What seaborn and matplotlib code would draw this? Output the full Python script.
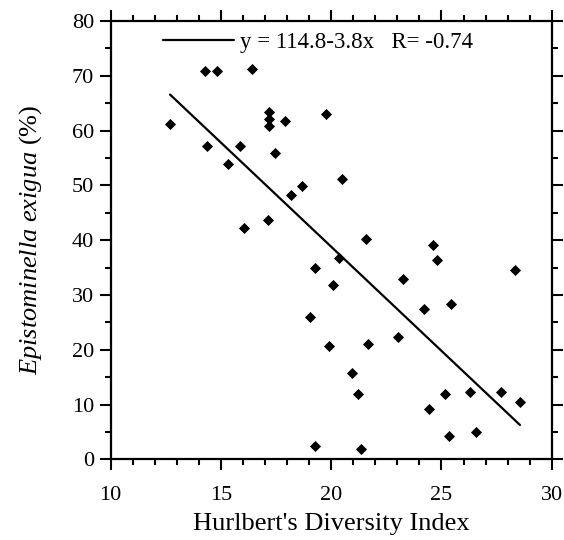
import numpy as np
import pandas as pd
import matplotlib
matplotlib.use("Agg")
import matplotlib.pyplot as plt
from matplotlib.ticker import MultipleLocator
import seaborn as sns

# Data
diversity = [12.69, 14.29, 14.81, 16.39, 17.19, 17.19, 17.19, 17.90, 14.35, 15.86,
             15.33, 17.45, 18.16, 18.68, 16.05, 17.12, 19.75, 20.50, 21.58, 19.27,
             20.35, 24.63, 24.81, 28.34, 20.07, 23.24, 25.43, 24.19, 19.04, 19.90,
             21.65, 23.04, 20.93, 21.20, 25.15, 26.29, 27.70, 28.56, 24.45, 25.36,
             26.57, 19.27, 21.35]
exigua = [61.2, 70.9, 70.9, 71.2, 63.4, 62.2, 60.8, 61.7, 57.1, 57.1,
          53.9, 56.0, 48.3, 49.8, 42.3, 43.7, 63.0, 51.1, 40.3, 35.0,
          36.8, 39.2, 36.4, 34.6, 31.8, 32.9, 28.4, 27.4, 25.9, 20.7,
          21.0, 22.4, 15.8, 12.0, 12.0, 12.3, 12.3, 10.5, 9.2, 4.2,
          5.0, 2.5, 1.8]
fit_intercept = [114.8]
fit_slope = [-3.8]
fit_r = [-0.74]

df = pd.DataFrame({"x": diversity, "y": exigua})
xfit = np.array([min(diversity), max(diversity)])
fit_df = pd.DataFrame({"x": xfit, "y": fit_intercept[0] + fit_slope[0] * xfit})

sns.set_theme(style="ticks")
plt.rcParams["font.family"] = ["Liberation Serif", "DejaVu Serif"]
plt.rcParams["mathtext.fontset"] = "custom"
plt.rcParams["mathtext.rm"] = "Liberation Serif"
plt.rcParams["mathtext.it"] = "Liberation Serif:italic"

fig = plt.figure(figsize=(5.64, 5.40), dpi=100)
ax = fig.add_axes([0.1963, 0.1494, 0.9782 - 0.1963, 0.9611 - 0.1494])

label = f"y = {fit_intercept[0]}{fit_slope[0]}x   R= {fit_r[0]}"
sns.lineplot(data=fit_df, x="x", y="y", ax=ax, color="black", linewidth=1.6, label=label)
sns.scatterplot(data=df, x="x", y="y", ax=ax, marker="D", s=32, color="black",
                edgecolor="black", linewidth=0, zorder=3)

ax.set_xlim(10, 30)
ax.set_ylim(0, 80)
ax.xaxis.set_major_locator(MultipleLocator(5))
ax.xaxis.set_minor_locator(MultipleLocator(1))
ax.yaxis.set_major_locator(MultipleLocator(10))
ax.yaxis.set_minor_locator(MultipleLocator(5))
ax.tick_params(which="both", direction="out", top=True, right=True, color="black",
               width=1.5, labelsize=16, labelcolor="black")
ax.tick_params(which="major", length=8)
ax.tick_params(which="minor", length=4.5)
ax.tick_params(axis="x", which="major", pad=11)
ax.tick_params(axis="y", which="major", pad=4)
for s in ax.spines.values():
    s.set_linewidth(1.6)
    s.set_color("black")

ax.set_xlabel("Hurlbert's Diversity Index", fontsize=19, color="black", labelpad=6)
ax.set_ylabel(r"$\mathit{Epistominella\ exigua}$ (%)", fontsize=19, color="black", labelpad=20)

leg = ax.legend(loc="center left", bbox_to_anchor=(0.1186, 0.952), frameon=False,
                borderpad=0, borderaxespad=0, handlelength=3.1, handletextpad=0.25,
                fontsize=16.5)
for t in leg.get_texts():
    t.set_color("black")

fig.savefig("out.png", dpi=100)
